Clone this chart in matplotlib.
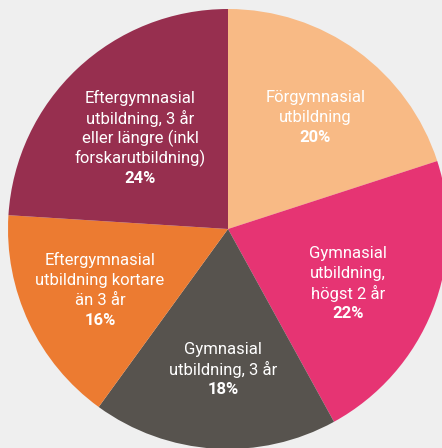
import matplotlib
matplotlib.use("Agg")
import matplotlib.pyplot as plt
import numpy as np

categories = [
    "Förgymnasial\nutbildning",
    "Gymnasial\nutbildning,\nhögst 2 år",
    "Gymnasial\nutbildning, 3 år",
    "Eftergymnasial\nutbildning kortare\nän 3 år",
    "Eftergymnasial\nutbildning, 3 år\neller längre (inkl\nforskarutbildning)",
]
values = [20, 22, 18, 16, 24]
pct_labels = ["20%", "22%", "18%", "16%", "24%"]
colors = ["#f8ba85", "#e63473", "#57534e", "#ec7b31", "#972f4f"]
label_dist = [0.645, 0.60, 0.64, 0.645, 0.575]
label_rot = [-2.0, -3.0, 1.6, 0.3, 0.8]

W, H = 442, 448
fig = plt.figure(figsize=(W / 100, H / 100), dpi=100, facecolor="#efefef")
ax = fig.add_axes([0, 0, 1, 1])
ax.set_facecolor("#efefef")

cx, cy, R = 228, H - 229, 220
wedges, _ = ax.pie(values, colors=colors, startangle=90, counterclock=False,
                   center=(cx, cy), radius=R, frame=True,
                   wedgeprops=dict(linewidth=0))
ax.set_xlim(0, W)
ax.set_ylim(0, H)
ax.set_aspect("equal")
ax.axis("off")

fam = ["Roboto", "DejaVu Sans"]
pitch = 20
for w, lab, pct, d, rot in zip(wedges, categories, pct_labels, label_dist, label_rot):
    ang = np.deg2rad((w.theta1 + w.theta2) / 2 + rot)
    ax_ = cx + d * R * np.cos(ang)
    ay_ = cy + d * R * np.sin(ang)
    lines = lab.split("\n")
    n = len(lines) + 1
    for i, ln in enumerate(lines):
        y = ay_ + (n - 1) / 2 * pitch - i * pitch
        ax.text(ax_, y, ln, ha="center", va="center", color="white",
                fontsize=12, family=fam)
    y = ay_ + (n - 1) / 2 * pitch - (n - 1) * pitch
    ax.text(ax_, y, pct, ha="center", va="center", color="white",
            fontsize=12, fontweight="bold", family=fam)

fig.savefig("out.png", dpi=100, facecolor=fig.get_facecolor())
